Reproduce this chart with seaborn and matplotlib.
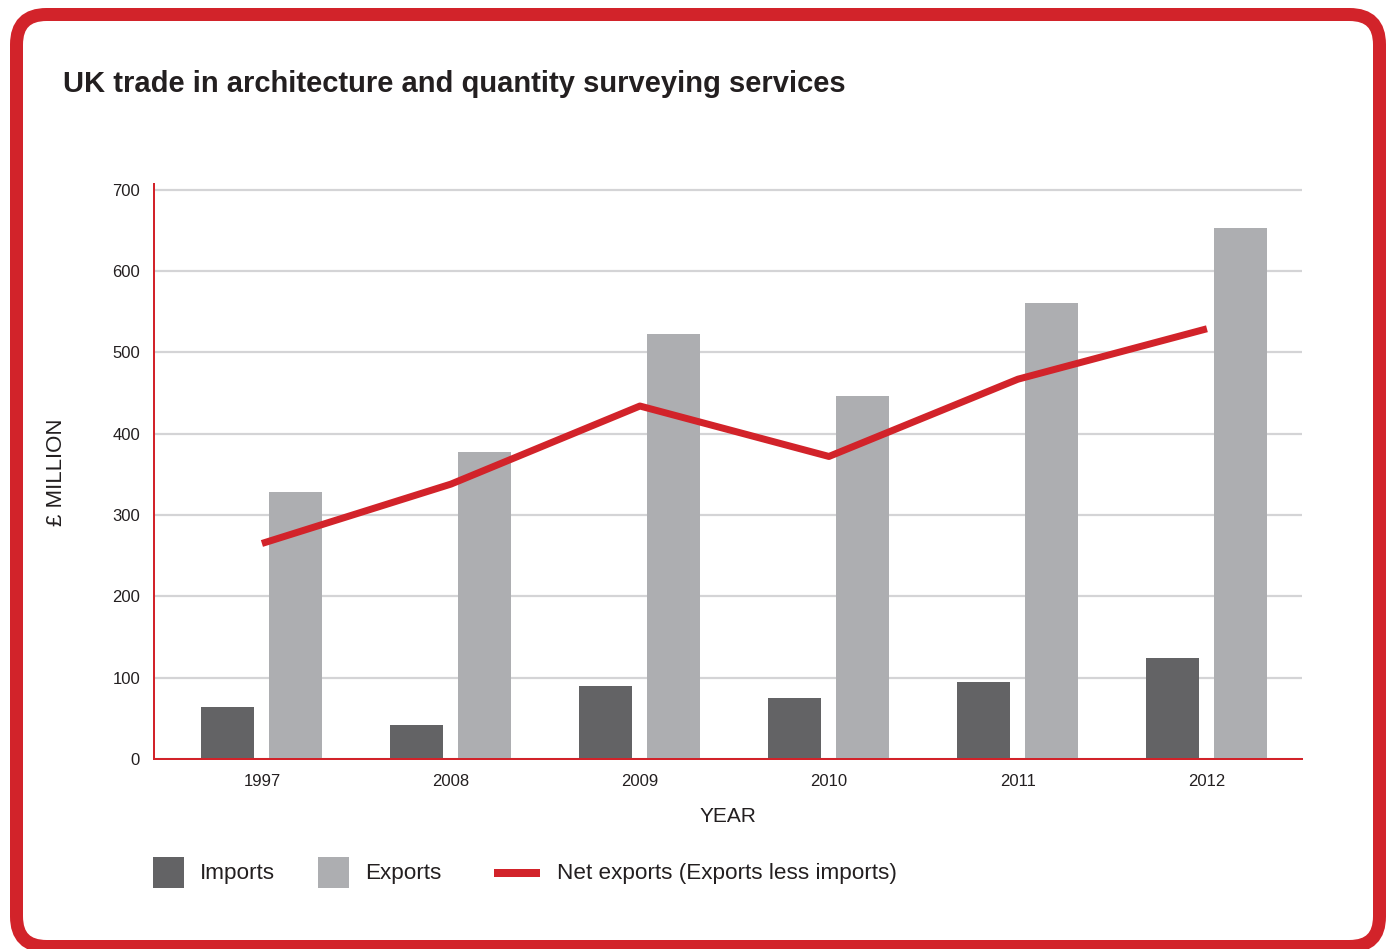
import numpy as np
import pandas as pd
import seaborn as sns
import matplotlib
matplotlib.use("Agg")
import matplotlib.pyplot as plt
from matplotlib.patches import FancyBboxPatch, Rectangle
from matplotlib.lines import Line2D
from matplotlib.transforms import IdentityTransform

# Trade values, £ million
years = ["1997", "2008", "2009", "2010", "2011", "2012"]
imports = [64, 42, 90, 75, 95, 124]
exports = [328, 378, 522, 446, 561, 653]
net_exports = [265, 338, 434, 372, 467, 529]

series_names = ["Imports", "Exports"]
y_ticks = [0, 100, 200, 300, 400, 500, 600, 700]

IMPORT_COL = "#636365"
EXPORT_COL = "#adaeb1"
RED = "#d2232a"
GRID = "#d4d4d6"
TEXT = "#231f20"

sns.set_theme(style="white")
plt.rcParams["font.family"] = ["Liberation Sans", "DejaVu Sans"]

W, H = 1392, 949
fig = plt.figure(figsize=(W / 100, H / 100), dpi=100)
fig.patch.set_facecolor("white")

# rounded red border
px2pt = 72 / 100
frame = FancyBboxPatch((16.5, 2.5), 1379.5 - 16.5, 934.5 - 2.5,
                       boxstyle="round,pad=0,rounding_size=30",
                       transform=IdentityTransform(), facecolor="white",
                       edgecolor=RED, linewidth=13 * px2pt, zorder=0)
fig.add_artist(frame)

left, right, top, bottom = 154, 1302, 184, 759
ax = fig.add_axes([left / W, 1 - bottom / H, (right - left) / W, (bottom - top) / H])
ax.set_facecolor("none")

df = pd.DataFrame({
    "year": years * 2,
    "value": imports + exports,
    "series": [series_names[0]] * len(years) + [series_names[1]] * len(years),
})

sns.barplot(data=df, x="year", y="value", hue="series", order=years,
            hue_order=series_names, palette=[IMPORT_COL, EXPORT_COL],
            width=0.72, gap=0.22, saturation=1, linewidth=0,
            legend=False, ax=ax, zorder=3)

sns.lineplot(x=np.arange(len(years)), y=net_exports, color=RED,
             linewidth=7 * px2pt, ax=ax, zorder=4, solid_capstyle="butt",
             solid_joinstyle="round")

ax.set_ylim(0, 707)
ax.set_xlim(-0.571, len(years) - 1 + 0.503)
ax.set_yticks(y_ticks)
ax.set_yticklabels([str(t) for t in y_ticks])
ax.yaxis.grid(True, color=GRID, linewidth=2.2 * px2pt, zorder=0)
ax.set_axisbelow(True)
ax.tick_params(axis="both", length=0, labelsize=12, labelcolor=TEXT)
ax.tick_params(axis="y", pad=10)
ax.tick_params(axis="x", pad=11)

for side in ["top", "right"]:
    ax.spines[side].set_visible(False)
for side in ["left", "bottom"]:
    ax.spines[side].set_color(RED)
    ax.spines[side].set_linewidth(2 * px2pt)
    ax.spines[side].set_zorder(5)

ax.set_xlabel("YEAR", fontsize=15, color=TEXT, labelpad=13)
ax.set_ylabel("")

fig.text(63 / W, 1 - 92 / H, "UK trade in architecture and quantity surveying services",
         fontsize=21, fontweight="bold", color=TEXT, ha="left", va="baseline")
fig.text(57 / W, 1 - 472 / H, "£ MILLION", fontsize=16, color=TEXT,
         rotation=90, ha="center", va="center")

# legend row
leg_y = 873
for x0, col, label in [(153, IMPORT_COL, series_names[0]), (318, EXPORT_COL, series_names[1])]:
    fig.add_artist(Rectangle((x0, H - 888), 31, 31, transform=IdentityTransform(),
                             facecolor=col, edgecolor="none"))
    fig.text((x0 + 47) / W, 1 - leg_y / H, label, fontsize=16.2, color=TEXT,
             ha="left", va="center")
fig.add_artist(Line2D([494, 540], [H - leg_y, H - leg_y], transform=IdentityTransform(),
                      color=RED, linewidth=8 * px2pt, solid_capstyle="butt"))
fig.text(557 / W, 1 - leg_y / H, "Net exports (Exports less imports)", fontsize=16.2,
         color=TEXT, ha="left", va="center")

fig.savefig("out.png", dpi=100, facecolor="white")
